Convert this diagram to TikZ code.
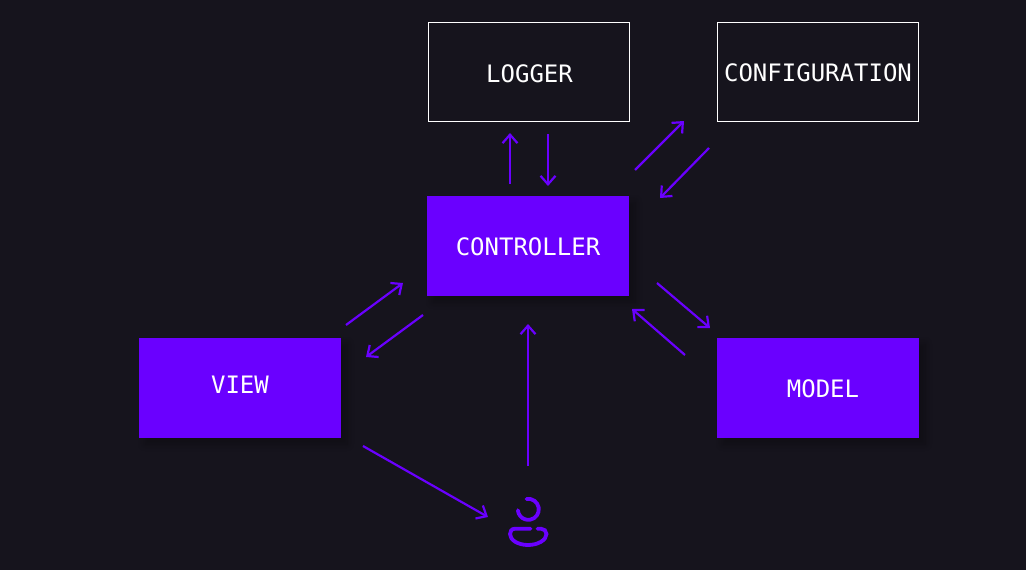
\documentclass[tikz,border=0pt]{standalone}
\usepackage{fontspec}
\setmonofont{DejaVu Sans Mono}
\usetikzlibrary{arrows.meta,shadows.blur}
\definecolor{bgdark}{HTML}{16141D}
\definecolor{vio}{HTML}{6A00FF}
\tikzset{
  x=1pt,y=-1pt,
  lbl/.style={text=white,font=\ttfamily\fontsize{24}{24}\selectfont,inner sep=0pt},
  outlinebox/.style={draw=white,line width=1.2pt,minimum width=201pt,minimum height=99pt,inner sep=0pt,outer sep=0pt,anchor=north west},
  fillbox/.style={fill=vio,minimum width=202pt,minimum height=100pt,inner sep=0pt,outer sep=0pt,anchor=north west},
  softshadow/.style={blur shadow={shadow xshift=6pt,shadow yshift=-6pt,shadow blur steps=10,shadow blur radius=7pt,shadow opacity=30}},
  conn/.style={draw=vio,line width=2.2pt,-{Straight Barb[length=8.5pt,width=15pt,line width=2.2pt]}},
  icon/.style={draw=vio,line width=3.8pt,line cap=round}
}
\begin{document}
\begin{tikzpicture}
\fill[bgdark] (0,0) rectangle (1026,570);
\useasboundingbox (0,0) rectangle (1026,570);
\node[outlinebox,label={[lbl,xshift=0.5pt,yshift=-1.5pt]center:LOGGER}] (logger) at (428.5,22.5) {};
\node[outlinebox,label={[lbl,xshift=0pt,yshift=-1pt]center:CONFIGURATION}] (config) at (717.5,22.5) {};
\node[fillbox,softshadow,label={[lbl,yshift=-1pt]center:CONTROLLER}] (controller) at (427,196) {};
\node[fillbox,softshadow,label={[lbl,yshift=3pt]center:VIEW}] (view) at (139,338) {};
\node[fillbox,softshadow,label={[lbl,xshift=5pt,yshift=-1pt]center:MODEL}] (model) at (717,338) {};
\coordinate (a1s) at (510,184); \coordinate (a1e) at (510,133);
\coordinate (a2s) at (548,134); \coordinate (a2e) at (548,186);
\coordinate (a3s) at (635,170); \coordinate (a3e) at (684,121);
\coordinate (a4s) at (709,148); \coordinate (a4e) at (660,198);
\coordinate (a5s) at (657,283); \coordinate (a5e) at (710,328);
\coordinate (a6s) at (685,355); \coordinate (a6e) at (632,309);
\coordinate (a7s) at (346,325); \coordinate (a7e) at (403,283);
\coordinate (a8s) at (423,315); \coordinate (a8e) at (366,357);
\coordinate (a9s) at (528,466); \coordinate (a9e) at (528,324);
\coordinate (a10s) at (363,446); \coordinate (a10e) at (488,517);
\foreach \i in {1,...,10} \draw[conn] (a\i s) -- (a\i e);
% person icon
\draw[icon] (526.5,499) arc[start angle=-100,end angle=175,radius=10.5];
\draw[icon] (530.5,528.7) -- (515,528.7) .. controls (511.5,528.7) and (510,531.5) .. (510,534)
  .. controls (510,540) and (518,545) .. (528,545)
  .. controls (538,545) and (546.5,540) .. (546.5,534)
  .. controls (546.5,531) and (544,528.7) .. (541,528.7) -- (537.5,528.7);
\end{tikzpicture}
\end{document}
